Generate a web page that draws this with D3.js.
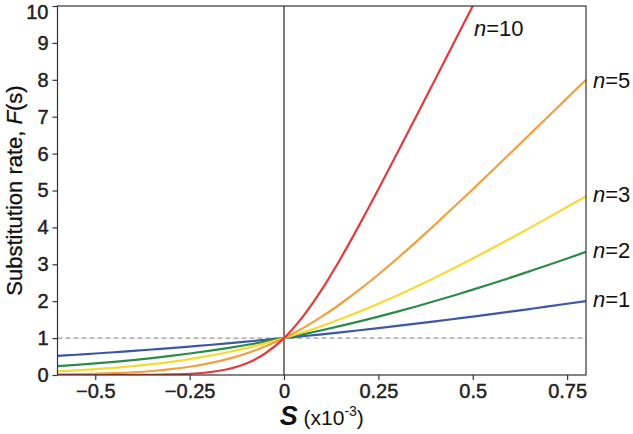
<!DOCTYPE html>
<html>
<head>
<meta charset="utf-8">
<script src="https://cdn.jsdelivr.net/npm/d3@7"></script>
<style>
  html, body { margin: 0; padding: 0; background: #fff; }
  svg { display: block; }
  text { font-family: "Liberation Sans", Arial, sans-serif; }
</style>
</head>
<body>
<svg id="chart" width="633" height="434"></svg>
<script>
// ---- data ----
const sValues = [-0.6,-0.55,-0.5,-0.45,-0.4,-0.35,-0.3,-0.25,-0.2,-0.15,-0.1,-0.05,0,
  0.05,0.1,0.15,0.2,0.25,0.3,0.35,0.4,0.45,0.5,0.55,0.6,0.65,0.7,0.75,0.8];

const n1 = [0.517,0.549,0.582,0.617,0.653,0.691,0.730,0.771,0.813,0.857,0.903,0.951,1,
  1.051,1.103,1.157,1.213,1.271,1.330,1.391,1.453,1.517,1.582,1.649,1.717,1.787,1.858,1.931,2.005];
const n2 = [0.239,0.274,0.313,0.356,0.405,0.458,0.517,0.582,0.653,0.730,0.813,0.903,1,
  1.103,1.213,1.330,1.453,1.582,1.717,1.858,2.005,2.156,2.313,2.474,2.639,2.809,2.981,3.157,3.336];
const n3 = [0.101,0.126,0.157,0.195,0.239,0.293,0.356,0.431,0.517,0.617,0.730,0.857,1,
  1.157,1.330,1.517,1.717,1.931,2.156,2.393,2.639,2.895,3.157,3.426,3.701,3.981,4.264,4.551,4.840];
const n5 = [0.015,0.023,0.034,0.051,0.075,0.109,0.157,0.224,0.313,0.431,0.582,0.771,1,
  1.271,1.582,1.931,2.313,2.724,3.157,3.609,4.075,4.551,5.034,5.523,6.015,6.510,7.006,7.504,8.003];
const n10 = [0.000,0.000,0.000,0.001,0.003,0.006,0.015,0.034,0.075,0.157,0.313,0.582,1,
  1.582,2.313,3.157,4.075,5.034,6.015,7.006,8.003,9.001,10.000,11.000];

const seriesNames = ["n=1","n=2","n=3","n=5","n=10"];
const seriesValues = [n1, n2, n3, n5, n10];
const seriesColors = ["#3b57a6","#2a8c48","#f7d935","#f2a03e","#e33b3b"];

const xTicks = [-0.5,-0.25,0,0.25,0.5,0.75];
const xTickLabels = ["\u22120.5","\u22120.25","0","0.25","0.5","0.75"];
const yTicks = [0,1,2,3,4,5,6,7,8,9,10];
const yTickLabels = ["0","1","2","3","4","5","6","7","8","9","10"];

// ---- layout ----
const svg = d3.select("#chart");
const pL = 57.5, pR = 586, pT = 6, pB = 375;

const x = d3.scaleLinear().domain([-0.6, 0.8]).range([pL, pR]);
const y = d3.scaleLinear().domain([0, 10]).range([pB, pT]);

svg.append("defs").append("clipPath").attr("id","plotclip")
  .append("rect").attr("x", pL).attr("y", pT)
  .attr("width", pR - pL).attr("height", pB - pT);

// dashed reference line at F=1
svg.append("line")
  .attr("x1", pL).attr("x2", pR)
  .attr("y1", y(1)).attr("y2", y(1))
  .attr("stroke", "#9a9a9a").attr("stroke-width", 1.2)
  .attr("stroke-dasharray", "5,3");

// vertical zero line
svg.append("line")
  .attr("x1", x(0)).attr("x2", x(0))
  .attr("y1", pT).attr("y2", pB)
  .attr("stroke", "#111").attr("stroke-width", 1.1);

// curves
const line = d3.line()
  .x((d, i) => x(sValues[i]))
  .y(d => y(d))
  .curve(d3.curveMonotoneX);

const g = svg.append("g").attr("clip-path", "url(#plotclip)");
seriesValues.forEach((vals, k) => {
  g.append("path")
    .datum(vals)
    .attr("d", line)
    .attr("fill", "none")
    .attr("stroke", seriesColors[k])
    .attr("stroke-width", 2.2);
});

// frame
svg.append("rect")
  .attr("x", pL).attr("y", pT)
  .attr("width", pR - pL).attr("height", pB - pT)
  .attr("fill", "none").attr("stroke", "#333").attr("stroke-width", 1.2);

// axes
const xAxis = d3.axisBottom(x).tickValues(xTicks)
  .tickFormat((d, i) => xTickLabels[i]).tickSize(5).tickPadding(4);
const yAxis = d3.axisLeft(y).tickValues(yTicks)
  .tickFormat((d, i) => yTickLabels[i]).tickSize(5).tickPadding(4);

const gx = svg.append("g").attr("transform", `translate(0,${pB})`).call(xAxis);
const gy = svg.append("g").attr("transform", `translate(${pL},0)`).call(yAxis);
[gx, gy].forEach(ax => {
  ax.select(".domain").remove();
  ax.selectAll(".tick line").attr("stroke", "#333").attr("stroke-width", 1.2);
  ax.selectAll(".tick text")
    .attr("fill", "#222")
    .attr("stroke", "#222").attr("stroke-width", 0.45)
    .style("font-family", "'Liberation Sans', Arial, sans-serif")
    .style("font-size", "20px");
});
// keep the top label inside the picture
gy.selectAll(".tick text").filter(d => d === 10).attr("dy", "0.6em");

// y axis label
const yl = svg.append("text")
  .attr("transform", `translate(22,${(pT + pB) / 2}) rotate(-90)`)
  .attr("text-anchor", "middle")
  .attr("fill", "#111")
  .attr("stroke", "#111").attr("stroke-width", 0.3)
  .style("font-size", "22px");
yl.append("tspan").text("Substitution rate, ");
yl.append("tspan").style("font-style", "italic").text("F");
yl.append("tspan").text("(s)");

// x axis label
const xl = svg.append("text")
  .attr("x", (pL + pR) / 2).attr("y", 425)
  .attr("text-anchor", "middle")
  .attr("fill", "#111");
xl.append("tspan").style("font-size", "27px").style("font-weight", "bold")
  .style("font-style", "italic").text("S");
xl.append("tspan").style("font-size", "21px").text(" (x10");
xl.append("tspan").style("font-size", "14px").attr("dy", -9).text("-3");
xl.append("tspan").style("font-size", "21px").attr("dy", 9).text(")");

// series labels
const labelPos = [
  {k:0, x: pR + 7, y: y(n1[n1.length - 1]) - 2},
  {k:1, x: pR + 7, y: y(n2[n2.length - 1]) - 2},
  {k:2, x: pR + 7, y: y(n3[n3.length - 1]) - 2},
  {k:3, x: pR + 7, y: y(n5[n5.length - 1])},
  {k:4, x: 474, y: 28}
];
labelPos.forEach(p => {
  const parts = seriesNames[p.k].split("=");
  const t = svg.append("text")
    .attr("x", p.x).attr("y", p.y)
    .attr("dominant-baseline", "central")
    .attr("fill", "#111")
    .style("font-size", "22px");
  t.append("tspan").style("font-style", "italic").text(parts[0]);
  t.append("tspan").text("=" + parts[1]);
});
</script>
</body>
</html>
